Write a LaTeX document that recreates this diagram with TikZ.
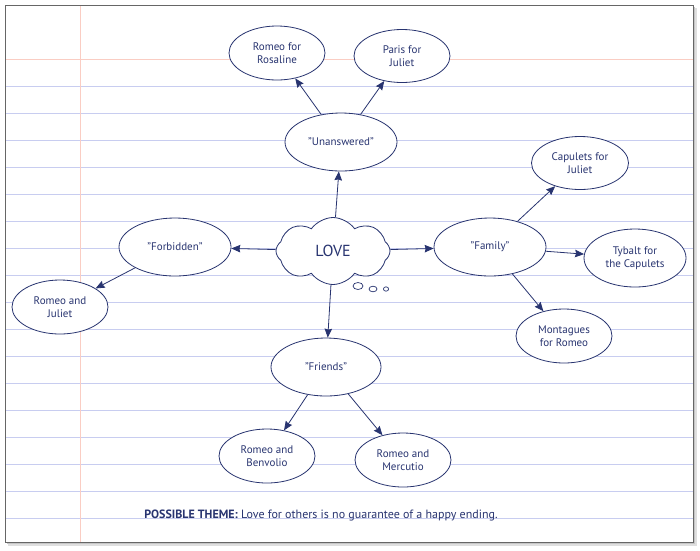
\documentclass[tikz,border=0pt]{standalone}
\usepackage{fontspec}
\setmainfont{PT Sans}
\usetikzlibrary{arrows.meta}
\usetikzlibrary{shapes.geometric}
\usetikzlibrary{shapes.symbols}

\definecolor{ink}{RGB}{40,52,112}
\definecolor{ruleblue}{RGB}{200,205,240}
\definecolor{rulered}{RGB}{250,205,195}

\begin{document}
\begin{tikzpicture}
	[x=1pt,y=-1pt,
	idea/.style={ellipse, draw=ink, line width=0.8pt, fill=white, inner sep=0pt, align=center, text=ink, font=\fontsize{11}{12.5}\selectfont},
	main/.style={cloud, cloud puffs=8, cloud puff arc=110, aspect=1.7, draw=ink, line width=0.8pt, fill=white, inner sep=0pt, minimum width=114pt, minimum height=67pt, text=ink, font=\fontsize{16}{18}\selectfont},
	link/.style={-{Stealth[length=9pt,width=7.5pt,inset=1pt]}, draw=ink, line width=0.8pt},
	rule/.style={draw=ruleblue, line width=0.7pt}];

	\useasboundingbox (0,0) rectangle (700,550);

	%Paper
	\fill[gray!25] (8,8) rectangle (697,546);
	\fill[gray!45] (7,7) rectangle (695,544);
	\fill[white] (5,5) rectangle (693,542);
	\foreach \y in {86,113,...,518}
		\draw[rule] (5,\y) -- (693,\y);
	\draw[rulered, line width=0.7pt] (5,59) -- (693,59);
	\draw[rulered, line width=0.7pt] (80,5) -- (80,542);
	\draw[gray!80!black, line width=0.8pt] (5,5) rectangle (693,542);

	%Center
	\node[main] (love) at (333,251) {LOVE};
	\draw[ink, line width=0.7pt, fill=white] (358,286) ellipse (5 and 3.5);
	\draw[ink, line width=0.7pt, fill=white] (373,289) ellipse (4 and 2.8);
	\draw[ink, line width=0.7pt, fill=white] (386,289) ellipse (2.6 and 2.2);

	%Themes
	\node[idea, minimum width=112pt, minimum height=58pt] (unanswered) at (341,142) {"Unanswered"};
	\node[idea, minimum width=112pt, minimum height=58pt] (forbidden) at (175,247) {"Forbidden"};
	\node[idea, minimum width=112pt, minimum height=58pt] (family) at (490,247) {"Family"};
	\node[idea, minimum width=110pt, minimum height=58pt] (friends) at (326,367) {"Friends"};

	%Examples
	\node[idea, minimum width=96pt, minimum height=54pt] (rosaline) at (277,53) {Romeo for\\Rosaline};
	\node[idea, minimum width=96pt, minimum height=53pt] (paris) at (402,56) {Paris for\\Juliet};
	\node[idea, minimum width=96pt, minimum height=54pt] (juliet) at (60,307) {Romeo and\\Juliet};
	\node[idea, minimum width=97pt, minimum height=53pt] (capulets) at (580,163) {Capulets for\\Juliet};
	\node[idea, minimum width=102pt, minimum height=58pt] (tybalt) at (635,258) {Tybalt for\\the Capulets};
	\node[idea, minimum width=96pt, minimum height=54pt] (montagues) at (564,336) {Montagues\\for Romeo};
	\node[idea, minimum width=96pt, minimum height=54pt] (benvolio) at (267,456) {Romeo and\\Benvolio};
	\node[idea, minimum width=96pt, minimum height=54pt] (mercutio) at (403,460) {Romeo and\\Mercutio};

	%Arrows
	\draw[link] (love) -- (unanswered);
	\draw[link] (love) -- (forbidden);
	\draw[link] (love) -- (family);
	\draw[link] (love) -- (friends);
	\draw[link] (unanswered) -- (rosaline);
	\draw[link] (unanswered) -- (paris);
	\draw[link] (forbidden) -- (juliet);
	\draw[link] (family) -- (capulets);
	\draw[link] (family) -- (tybalt);
	\draw[link] (family) -- (montagues);
	\draw[link] (friends) -- (benvolio);
	\draw[link] (friends) -- (mercutio);

	\node[text=ink, font=\fontsize{12}{14}\selectfont] (theme) at (321,515) {\textbf{POSSIBLE THEME:} Love for others is no guarantee of a happy ending.};
\end{tikzpicture}
\end{document}
